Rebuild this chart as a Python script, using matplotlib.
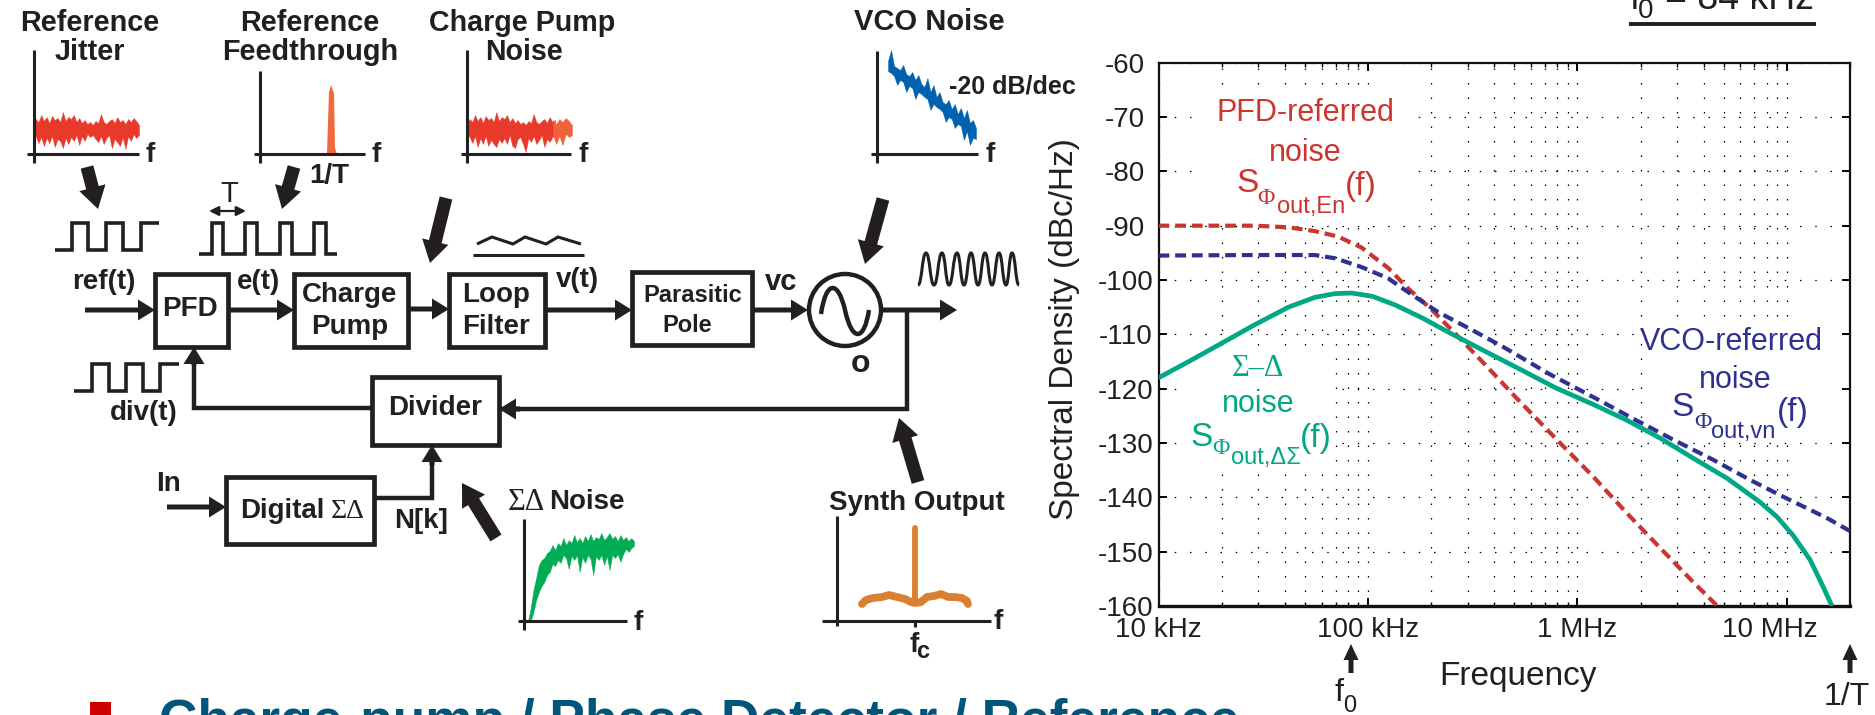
import numpy as np
import matplotlib
matplotlib.use('Agg')
from matplotlib import pyplot as plt
from matplotlib.patches import FancyArrow, Rectangle, Circle, PathPatch
from matplotlib.path import Path
from matplotlib.ticker import LogLocator, NullFormatter
from matplotlib.transforms import ScaledTranslation

plt.rcParams['font.family'] = ['Liberation Sans', 'DejaVu Sans']

# spectral density curves
red_f = [1e4, 2e4, 2.89e4, 4.17e4, 5.57e4, 7.2e4, 9.3e4, 1.25e5, 1.55e5, 2.02e5, 2.6e5, 3.63e5, 5.05e5, 6.08e5, 8.26e5, 1.19e6, 1.72e6, 2.48e6, 3.57e6, 4.65e6]
red_db = [-90, -90, -90, -90.3, -91, -92, -94, -97.8, -101.5, -105.5, -109.8, -115.6, -121.5, -124.7, -130, -136.2, -142.9, -149.3, -155.6, -160]
blue_f = [1e4, 2.89e4, 5.57e4, 6.97e4, 9.3e4, 1.25e5, 1.55e5, 2.16e5, 3.14e5, 4.51e5, 7.26e5, 8.91e5, 1.31e6, 1.78e6, 2.87e6, 4.45e6, 6.68e6, 9.27e6, 1.55e7, 2e7]
blue_db = [-95.5, -95.4, -95.4, -96, -97.6, -99.7, -102.2, -105.9, -109.2, -112.5, -117.2, -119, -122.4, -125.2, -129.4, -133.1, -136.8, -139.6, -143.8, -146.2]
green_f = [1e4, 1.38e4, 2.01e4, 2.89e4, 4.17e4, 5.57e4, 6.97e4, 8.38e4, 1.05e5, 1.35e5, 1.82e5, 2.42e5, 3.74e5, 5.43e5, 7.82e5,
           1.19e6, 1.72e6, 2.48e6, 3.57e6, 5.18e6, 7.45e6, 8.97e6, 1.07e7, 1.29e7, 1.49e7, 1.64e7]
green_db = [-118, -115.1, -111.6, -108.2, -105, -103.2, -102.5, -102.4, -103, -104.6, -107, -109.6, -113.4, -116.6, -119.8,
            -122.9, -125.8, -129.1, -132.8, -136.5, -140.9, -143.6, -147, -151.5, -156.5, -160]

y_ticks = [-60, -70, -80, -90, -100, -110, -120, -130, -140, -150, -160]
x_ticks = [1e4, 1e5, 1e6, 1e7]
x_labels = ['10 kHz', '100 kHz', '1 MHz', '10 MHz']

# noise sketches: upper and lower edge of the band, in picture pixels
jit_top = [124, 119, 122, 115, 121, 117, 123, 116, 120, 118, 122, 112, 121, 117, 119, 115, 122, 118, 123, 120,
           124, 122, 125, 121, 123, 114, 122, 124, 121, 119, 123, 117, 122, 120, 124, 119, 122, 118, 121, 125]
jit_bot = [133, 136, 143, 137, 146, 138, 143, 136, 147, 139, 141, 148, 138, 144, 137, 141, 135, 145, 136, 141,
           134, 137, 135, 139, 142, 136, 144, 138, 135, 148, 139, 142, 146, 137, 149, 136, 141, 134, 138, 135]
cp_bot = [133, 137, 143, 136, 147, 138, 144, 136, 146, 140, 144, 147, 139, 143, 138, 144, 135, 146, 148, 139,
          137, 144, 152, 138, 142, 136, 144, 140, 135, 147, 139, 142, 137, 135, 144, 136, 145, 134, 137, 135]
vco_top = [61, 50, 66, 68, 70, 65, 74, 76, 72, 80, 75, 84, 87, 78, 92, 85, 97, 92, 102, 104,
           100, 109, 104, 114, 108, 118, 110, 123, 120, 128]
vco_bot = [71, 73, 76, 85, 80, 82, 92, 86, 88, 99, 92, 94, 97, 99, 110, 104, 107, 109, 112, 122,
           117, 119, 128, 124, 126, 140, 131, 145, 138, 139]
sd_top = [621, 608, 590, 578, 565, 560, 558, 553, 551, 545, 550, 543, 546, 538, 545, 540, 543, 535, 542, 538,
          543, 536, 541, 534, 541, 537, 539, 533, 540, 537, 533, 539, 536, 541, 535, 540, 537, 541, 538, 541]
sd_bot = [621, 621, 612, 600, 592, 586, 582, 575, 572, 564, 566, 560, 563, 555, 558, 569, 556, 560, 555, 572,
          557, 563, 555, 559, 575, 556, 560, 555, 565, 556, 570, 555, 558, 554, 562, 554, 549, 552, 548, 546]

out_x = [862, 866, 873, 882, 889, 897, 905, 911, 915, 921, 927, 934, 941, 948, 955, 962, 967, 968]
out_y = [604, 600, 598, 597, 595, 597, 599, 602, 603, 602, 597, 596, 594, 597, 597, 598, 601, 604]

ink = '#231f20'

fig = plt.figure(figsize=(18.75, 7.15), dpi=100)

# spectrum plot
ax = fig.add_axes([1158.5/1875, 1-606/715, (1850-1158.5)/1875, (606-62.7)/715])
# whole picture in pixels, for the block diagram and the labels
ov = fig.add_axes([0, 0, 1, 1], zorder=5)
ov.set_xlim(0, 1875)
ov.set_ylim(715, 0)
ov.axis('off')

ax.set_xscale('log')
ax.set_xlim(1e4, 2e7)
ax.set_ylim(-160, -60)
ax.set_axisbelow(True)
ax.set_yticks(y_ticks)
ax.set_yticklabels([str(v) for v in y_ticks], fontsize=20, color=ink, ha='center')
ax.set_xticks(x_ticks)
ax.set_xticklabels(x_labels, fontsize=20, color=ink)
ax.xaxis.set_minor_locator(LogLocator(base=10, subs=range(2, 10), numticks=12))
ax.xaxis.set_minor_formatter(NullFormatter())
ax.tick_params(axis='y', which='major', direction='in', length=6, width=1.4, left=True, right=True, pad=24)
ax.tick_params(axis='x', which='major', direction='in', length=6, width=1.4, top=True, bottom=True, pad=8)
ax.tick_params(axis='x', which='minor', direction='in', length=3, width=1, top=True, bottom=True)
ax.get_xticklabels()[3].set_transform(ax.get_xticklabels()[3].get_transform() + ScaledTranslation(-17/100, 0, fig.dpi_scale_trans))
ax.grid(True, axis='x', which='both', color='k', lw=0.9, ls=(0, (1.2, 10.4)))
ax.grid(True, axis='y', which='major', color='k', lw=0.9, ls=(0, (1.2, 11)))
for s in ax.spines.values():
    s.set_linewidth(1.6)
    s.set_color('#111111')
ax.spines['bottom'].set_linewidth(2.4)

# the labels sit on white boxes that hide the grid
for x, y, w, h in [(1200, 93, 209, 127), (1644, 323, 197, 117), (1190, 353, 144, 115)]:
    ax.add_patch(Rectangle((x, y), w, h, transform=ov.transData, fc='white', ec='none', zorder=1))

ax.plot(red_f, red_db, color='#c8362f', lw=3, ls=(0, (2.6, 1.4)), zorder=3)
ax.plot(blue_f, blue_db, color='#2e3192', lw=3, ls=(0, (2.6, 1.4)), zorder=3)
ax.plot(green_f, green_db, color='#00a885', lw=3.4, zorder=4, solid_capstyle='butt')


def txt(x, y, s, size=20, weight='bold', color=ink, ha='center', va='center', **kw):
    ov.text(x, y, s, fontsize=size, fontweight=weight, color=color, ha=ha, va=va, **kw)


def line(xs, ys, lw=3.2, color=ink):
    ov.plot(xs, ys, color=color, lw=lw, solid_capstyle='butt', solid_joinstyle='miter')


def thin_arrow(x0, y0, x1, y1, w=5, hw=21, hl=17):
    ov.add_patch(FancyArrow(x0, y0, x1-x0, y1-y0, width=w, head_width=hw, head_length=hl,
                            length_includes_head=True, fc=ink, ec='none'))


def fat_arrow(x0, y0, x1, y1):
    ov.add_patch(FancyArrow(x0, y0, x1-x0, y1-y0, width=13, head_width=27, head_length=22,
                            length_includes_head=True, fc=ink, ec='none'))


def box(x0, y0, x1, y1):
    ov.add_patch(Rectangle((x0, y0), x1-x0, y1-y0, fc='white', ec=ink, lw=3.4))


def square(x0, x1, hi, lo, edges, start_low=True, lw=2.6):
    xs, ys = [x0], [lo if start_low else hi]
    level = lo if start_low else hi
    for e in edges:
        xs += [e, e]
        ys += [level, hi if level == lo else lo]
        level = ys[-1]
    xs.append(x1)
    ys.append(level)
    line(xs, ys, lw=lw)


def mini_axes(x_ax, y_top, y_ax, x_left, x_right, y_bottom, fx, fy=None):
    line([x_ax, x_ax], [y_top, y_bottom], lw=2.2)
    line([x_left, x_right], [y_ax, y_ax], lw=2.2)
    txt(fx, y_ax+1 if fy is None else fy, 'f')


def band(x0, x1, top, bot, color):
    xs = np.linspace(x0, x1, len(top))
    ov.fill_between(xs, top, bot, color=color, lw=0.3)


# noise sketches along the top
txt(90, 23, 'Reference', size=20.8)
txt(90, 52, 'Jitter', size=20.8)
mini_axes(34, 50, 154, 27, 139, 163, 150)
band(33, 139, jit_top, jit_bot, '#e8392b')

txt(310, 23, 'Reference', size=20.8)
txt(310, 52, 'Feedthrough', size=20.8)
mini_axes(260, 71, 154, 254, 365, 163, 376)
ov.fill([327, 329, 331, 334, 335, 337], [154, 92, 85, 94, 148, 154], color='#f26a3c', lw=0)
txt(329, 176, '1/T')

txt(522, 23, 'Charge Pump', size=20.6)
txt(524, 52, 'Noise', size=20.6)
mini_axes(467, 50, 154, 461, 571, 163, 583)
band(467, 555, jit_top[:34], cp_bot[:34], '#e8392b')
band(553, 572, jit_top[33:], cp_bot[33:], '#f0623a')

txt(929, 22, 'VCO Noise', size=21)
mini_axes(877, 51, 154, 871, 978, 163, 990, 155)
band(888, 976, vco_top, vco_bot, '#0061ae')
txt(1012, 87, '-20 dB/dec', size=18)

fat_arrow(87, 167, 98, 209)
fat_arrow(294, 167, 282, 209)
fat_arrow(446, 198, 430, 263)
fat_arrow(883, 199, 865, 264)
fat_arrow(918, 482, 899, 418)
fat_arrow(496, 538, 462, 483)

# waveforms above the blocks
square(55, 159, 223, 250, [72, 88, 106, 123, 141])
square(199, 337, 223, 254, [212, 223, 245, 257, 280, 292, 314, 326])
square(74, 179, 364, 391, [92, 109, 126, 143, 160])
txt(229, 194, 'T', weight='normal', size=21)
ov.annotate('', xy=(209, 211), xytext=(246, 211), arrowprops=dict(arrowstyle='<|-|>', color=ink, lw=1.6, shrinkA=0, shrinkB=0, mutation_scale=14))
line([477, 492, 513, 525, 546, 558, 581], [244, 237, 244, 237, 244, 237, 244], lw=2.2)
line([473, 584], [255, 255], lw=2.2)

# loop
line([194, 194, 372], [364, 408, 408])
line([500, 907, 907], [409, 409, 310])
line([374, 432, 432], [498, 498, 460])
thin_arrow(85, 310, 155, 310)
thin_arrow(228, 310, 294, 310)
thin_arrow(408, 309, 449, 309)
thin_arrow(545, 310, 632, 310)
thin_arrow(752, 310, 808, 310)
thin_arrow(880, 310, 957, 310)
thin_arrow(194, 365, 194, 347)
thin_arrow(520, 409, 499, 409)
thin_arrow(432, 465, 432, 445)
thin_arrow(167, 507, 226, 507)

box(155, 274, 228, 347)
box(294, 274, 408, 347)
box(449, 274, 545, 347)
box(632, 272, 752, 345)
box(372, 377, 499, 445)
box(226, 477, 374, 544)

txt(190, 309, 'PFD')
txt(350, 295, 'Charge')
txt(350, 327, 'Pump')
txt(496, 295, 'Loop')
txt(496, 327, 'Filter')
txt(693, 296, 'Parasitic', size=17)
txt(687, 325, 'Pole', size=17)
txt(435, 408, 'Divider')
ov.text(240, 511, 'Digital', fontsize=20, fontweight='bold', color=ink, va='center')
ov.text(331, 511, 'ΣΔ', fontsize=20, family=['Liberation Serif'], color=ink, va='center')
txt(104, 282, 'ref(t)')
txt(259, 282, 'e(t)')
txt(577, 280, 'v(t)')
txt(781, 282, 'vc', size=21)
txt(144, 413, 'div(t)')
txt(168, 484, 'In')
txt(421, 521, 'N[k]')

# oscillator
ov.add_patch(Circle((845, 310), 36, fc='white', ec=ink, lw=3.2, zorder=3))
sine = Path([(821, 314), (826, 280), (838, 280), (845, 310), (852, 342), (864, 342), (869, 310)],
            [Path.MOVETO] + [Path.CURVE4]*6)
ov.add_patch(PathPatch(sine, fc='none', ec=ink, lw=3.2, zorder=4))
txt(860, 364, 'o', size=23)

# output waveform, peak to trough
wave_x = [918, 926, 934, 942, 949, 957, 964, 971, 978, 985, 992, 999, 1006, 1012, 1019]
wave_y = [285, 253, 285, 253, 285, 253, 285, 253, 285, 253, 285, 253, 285, 253, 285]
verts, codes = [(wave_x[0], wave_y[0])], [Path.MOVETO]
for i in range(len(wave_x)-1):
    mid = (wave_x[i] + wave_x[i+1]) / 2
    verts += [(mid, wave_y[i]), (mid, wave_y[i+1]), (wave_x[i+1], wave_y[i+1])]
    codes += [Path.CURVE4]*3
ov.add_patch(PathPatch(Path(verts, codes), fc='none', ec=ink, lw=2.2))

# bottom sketches
ov.text(508, 502, 'ΣΔ', fontsize=22, family=['Liberation Serif'], color=ink, va='center')
txt(549, 502, 'Noise', ha='left')
mini_axes(524, 519, 621, 518, 627, 630, 638, 623)
band(528, 634, sd_top, sd_bot, '#00ad54')

txt(917, 503, 'Synth Output')
mini_axes(837, 516, 621, 822, 991, 626, 998, 622)
line([915, 915], [621, 627], lw=2.2)
ov.plot(out_x, out_y, color='#d98032', lw=5.6, solid_capstyle='round')
ov.plot([915, 915], [528, 602], color='#d98032', lw=4.2, solid_capstyle='round')
txt(914, 645, 'f')
txt(923, 651, 'c', size=17)

# labels of the spectrum plot
chart = dict(weight='normal', size=22)
big = dict(weight='normal', size=24)
red, navy, teal = '#c8362f', '#2e3192', '#00a885'
txt(1305, 113, 'PFD-referred', color=red, **chart)
txt(1305, 153, 'noise', color=red, **chart)
txt(1236, 183, 'S', color=red, ha='left', **big)
txt(1257, 198, 'Φ', color=red, size=17, weight='normal', ha='left', family=['Liberation Serif'])
txt(1277, 207, 'out,En', color=red, size=17, weight='normal', ha='left')
txt(1345, 187, '(f)', color=red, ha='left', **big)

txt(1731, 342, 'VCO-referred', color=navy, **chart)
txt(1735, 380, 'noise', color=navy, **chart)
txt(1671, 408, 'S', color=navy, ha='left', **big)
txt(1694, 422, 'Φ', color=navy, size=17, weight='normal', ha='left', family=['Liberation Serif'])
txt(1711, 432, 'out,vn', color=navy, size=17, weight='normal', ha='left')
txt(1777, 412, '(f)', color=navy, ha='left', **big)

txt(1258, 368, 'Σ–Δ', color=teal, family=['Liberation Serif'], **chart)
txt(1258, 404, 'noise', color=teal, **chart)
txt(1190, 437, 'S', color=teal, ha='left', **big)
txt(1212, 449, 'Φ', color=teal, size=17, weight='normal', ha='left', family=['Liberation Serif'])
txt(1231, 458, 'out,ΔΣ', color=teal, size=17, weight='normal', ha='left')
txt(1300, 439, '(f)', color=teal, ha='left', **big)

txt(1065, 329, 'Spectral Density (dBc/Hz)', size=24, weight='normal', rotation=90)
txt(1518, 676, 'Frequency', size=24, weight='normal')

thin_arrow(1351, 673, 1351, 644, w=5, hw=15, hl=16)
thin_arrow(1850, 673, 1850, 644, w=5, hw=15, hl=16)
txt(1339, 693, 'f', size=23, weight='normal')
txt(1350, 706, '0', size=17, weight='normal')
txt(1847, 697, '1/T', size=23, weight='normal')

# cut off by the picture edge in the reference
ov.text(1630, 9, 'f', fontsize=27, color=ink, va='baseline')
ov.text(1638, 18, '0', fontsize=20, color=ink, va='baseline')
ov.text(1665, 9, '= 84 kHz', fontsize=27, color=ink, va='baseline')
line([1629, 1816], [24, 24], lw=2.8)

ov.add_patch(Rectangle((90, 702), 21, 20, fc='#cc0000', ec='none'))
ov.text(159, 737, 'Charge-pump / Phase Detector / Reference', fontsize=38.3, fontweight='bold', color='#00567a', va='baseline')

fig.savefig('out.png', dpi=100)
